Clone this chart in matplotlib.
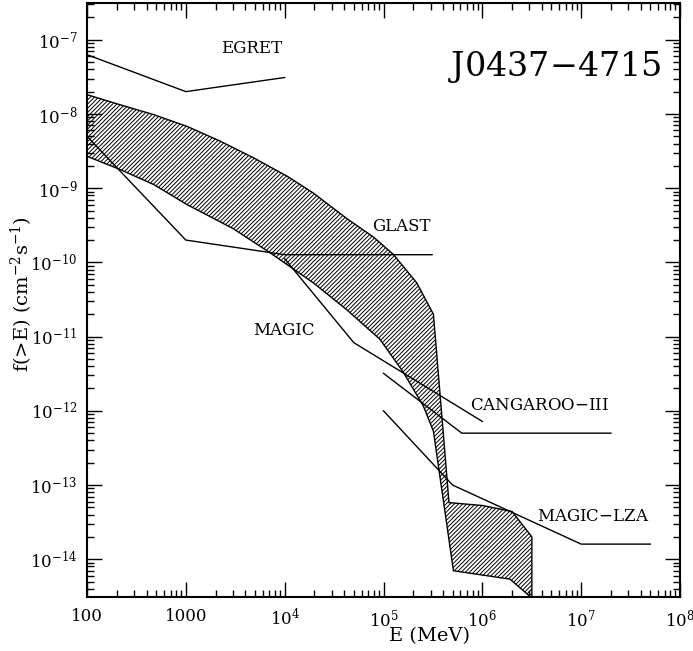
import numpy as np
import matplotlib
matplotlib.use('Agg')
import matplotlib.pyplot as plt
from matplotlib.ticker import FixedLocator, FixedFormatter, LogLocator, NullFormatter

plt.rc('font', family='DejaVu Serif', size=12)
plt.rc('mathtext', fontset='dejavuserif')
plt.rc('hatch', linewidth=0.7)

# sensitivity curves: energy (MeV), integral flux f(>E) (cm^-2 s^-1)
egret_E = [100, 1000, 1e4]
egret_f = [6.3e-8, 2.0e-8, 3.1e-8]

glast_E = [100, 1000, 1e4, 3.1e5]
glast_f = [5.0e-9, 2.0e-10, 1.27e-10, 1.27e-10]

magic_E = [1e4, 5e4, 1e6]
magic_f = [1.12e-10, 8.3e-12, 7.2e-13]

cangaroo_E = [1e5, 6.2e5, 2e7]
cangaroo_f = [3.2e-12, 5.0e-13, 5.0e-13]

magic_lza_E = [1e5, 5e5, 1e7, 5e7]
magic_lza_f = [1.0e-12, 1.0e-13, 1.6e-14, 1.6e-14]

# predicted pulsar flux band (hatched)
band_upper_E = [100, 217, 473, 1030, 2230, 4860, 1.06e4, 1.95e4, 4.25e4, 7.9e4,
                1.26e5, 2.17e5, 3.2e5, 4.6e5, 1.0e6, 2.0e6, 3.17e6, 3.17e6]
band_upper_f = [1.82e-8, 1.33e-8, 9.8e-9, 6.8e-9, 4.3e-9, 2.56e-9, 1.45e-9, 8.6e-10, 3.9e-10, 2.2e-10,
                1.28e-10, 5.3e-11, 2.0e-11, 5.8e-14, 5.3e-14, 4.4e-14, 2.0e-14, 3.0e-15]
band_lower_E = [100, 217, 473, 1030, 3000, 7.1e3, 1.95e4, 4.25e4, 9.2e4, 1.59e5,
                2.53e5, 3.2e5, 5.1e5, 1.9e6, 3.17e6]
band_lower_f = [2.69e-9, 1.78e-9, 1.12e-9, 6.0e-10, 2.86e-10, 1.35e-10, 5.3e-11, 2.3e-11, 9.2e-12, 3.3e-12,
                1.16e-12, 5.3e-13, 7.0e-15, 5.4e-15, 3.0e-15]

xticks = [100, 1000, 1e4, 1e5, 1e6, 1e7, 1e8]
xticklabels = ['100', '1000', '$10^{4}$', '$10^{5}$', '$10^{6}$', '$10^{7}$', '$10^{8}$']
yticks = [1e-14, 1e-13, 1e-12, 1e-11, 1e-10, 1e-9, 1e-8, 1e-7]
yticklabels = ['$10^{-14}$', '$10^{-13}$', '$10^{-12}$', '$10^{-11}$',
               '$10^{-10}$', '$10^{-9}$', '$10^{-8}$', '$10^{-7}$']

labels = [('EGRET', 4.6e3, 7.6e-8),
          ('GLAST', 1.53e5, 3.0e-10),
          ('MAGIC', 9.8e3, 1.21e-11),
          ('CANGAROO$-$III', 3.76e6, 1.19e-12),
          ('MAGIC$-$LZA', 1.32e7, 3.8e-14)]


fig = plt.figure(figsize=(6.93, 6.51), dpi=100)
ax = fig.add_axes((87/693, 1-597/651, (680-87)/693, (597-3.3)/651))

ax.set_xscale('log')
ax.set_yscale('log')

band_E = band_upper_E + band_lower_E[::-1]
band_f = band_upper_f + band_lower_f[::-1]
ax.fill(band_E, band_f, facecolor='none', edgecolor='k', hatch='////////', linewidth=1.0)

lw = 1.0
for E, f in [(egret_E, egret_f), (glast_E, glast_f), (magic_E, magic_f),
             (cangaroo_E, cangaroo_f), (magic_lza_E, magic_lza_f)]:
    ax.plot(E, f, color='k', linewidth=lw)

for txt, x, y in labels:
    ax.text(x, y, txt, ha='center', va='center', fontsize=12)

ax.text(0.788, 0.893, 'J0437$-$4715', transform=ax.transAxes, ha='center', va='center',
        fontsize=24)

ax.set_xlim(100, 1e8)
ax.set_ylim(3.1e-15, 3.1e-7)

ax.xaxis.set_major_locator(FixedLocator(xticks))
ax.xaxis.set_major_formatter(FixedFormatter(xticklabels))
ax.yaxis.set_major_locator(FixedLocator(yticks))
ax.yaxis.set_major_formatter(FixedFormatter(yticklabels))
ax.xaxis.set_minor_locator(LogLocator(base=10, subs=np.arange(2, 10), numticks=20))
ax.yaxis.set_minor_locator(LogLocator(base=10, subs=np.arange(2, 10), numticks=20))
ax.xaxis.set_minor_formatter(NullFormatter())
ax.yaxis.set_minor_formatter(NullFormatter())

ax.tick_params(which='both', direction='in', top=True, right=True, width=1.0)
ax.tick_params(which='major', length=11, labelsize=12)
ax.tick_params(which='minor', length=5)
ax.tick_params(axis='x', which='major', pad=8)
ax.tick_params(axis='y', which='major', pad=7)
for s in ax.spines.values():
    s.set_linewidth(1.5)

ax.set_xlabel('E (MeV)', fontsize=14)
ax.set_ylabel('f(>E) (cm$^{-2}$s$^{-1}$)', fontsize=14)
ax.xaxis.set_label_coords(0.578, -0.05)
ax.yaxis.set_label_coords(-0.088, 0.51)

fig.savefig('out.png', dpi=100)
